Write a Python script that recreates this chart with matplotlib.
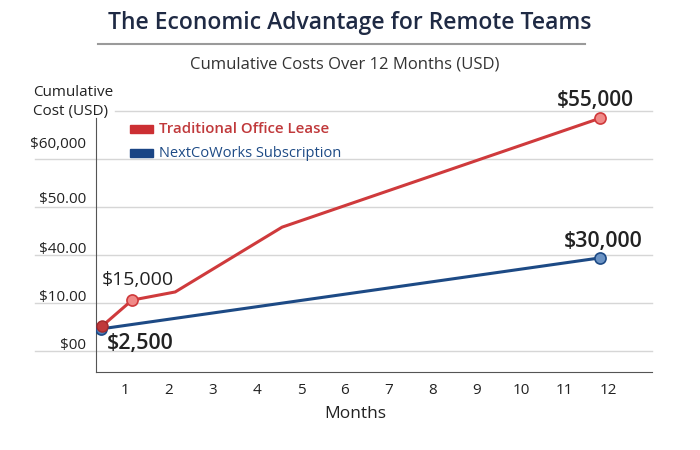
import matplotlib
matplotlib.use("Agg")
import matplotlib.pyplot as plt
import matplotlib.transforms as mtransforms
from matplotlib.lines import Line2D
from matplotlib.patches import Rectangle

plt.rcParams['font.family'] = ['Open Sans', 'DejaVu Sans']

# data (months, cumulative cost in USD on the drawn scale)
office_months = [0.48, 1.16, 2.14, 4.57, 11.8]
office_cost = [5200, 10600, 12300, 25800, 48500]
cowork_months = [0.45, 11.8]
cowork_cost = [4600, 19400]

month_ticks = list(range(1, 13))
grid_vals = [0, 10000, 20000, 30000, 40000, 50000]
ytick_text = ["$00", "$10.00", "$40.00", "$50.00", "$60,000"]
ytick_lift = [7, 7, 8, 10, 16]   # px the label sits above its grid line

RED = "#cf3a3c"
BLUE = "#1d4a85"
TXT = "#222222"

fig = plt.figure(figsize=(7, 4.5), dpi=100)
ax = fig.add_axes([96 / 700, 78 / 450, 556 / 700, 261 / 450])

ax.set_xlim(0.34, 12.98)
ax.set_ylim(-4375, 50000)

# grid lines run past the left spine, as in the reference
for v in grid_vals:
    xmin = -0.11 if v < 50000 else 0.034
    ax.axhline(v, xmin=xmin, xmax=1.0, color="#d6d6d6", lw=1, clip_on=False, zorder=0)

ax.plot(office_months, office_cost, color=RED, lw=2.2, zorder=3, solid_capstyle="round")
ax.plot(cowork_months, cowork_cost, color=BLUE, lw=2.2, zorder=3, solid_capstyle="round")

# markers at start / highlighted points
ax.plot(office_months[1], office_cost[1], "o", ms=8, mfc="#f08a88", mec=RED, mew=1.2, zorder=4)
ax.plot(office_months[-1], office_cost[-1], "o", ms=8, mfc="#f08a88", mec=RED, mew=1.2, zorder=4)
ax.plot(cowork_months[0], cowork_cost[0], "o", ms=8, mfc="#4f7fb8", mec=BLUE, mew=1.2, zorder=4)
ax.plot(office_months[0], office_cost[0], "o", ms=8, mfc="#c0393b", mec="#a02a2c", mew=1.0, zorder=5)
ax.plot(cowork_months[-1], cowork_cost[-1], "o", ms=8, mfc="#6b93c4", mec=BLUE, mew=1.2, zorder=4)

# value labels
ax.annotate("$15,000", (office_months[1], office_cost[1]), xytext=(-30, 20),
            textcoords="offset pixels", fontsize=14, color=TXT, va="center")
ax.annotate("$2,500", (cowork_months[0], cowork_cost[0]), xytext=(6, -15),
            textcoords="offset pixels", fontsize=15.5, color=TXT, va="center",
            fontweight="semibold")
ax.annotate("$55,000", (office_months[-1], office_cost[-1]), xytext=(-43, 18),
            textcoords="offset pixels", fontsize=15, color=TXT, va="center",
            fontweight="semibold")
ax.annotate("$30,000", (cowork_months[-1], cowork_cost[-1]), xytext=(-36, 16),
            textcoords="offset pixels", fontsize=15.5, color=TXT, va="center",
            fontweight="semibold")

# axes styling
for s in ["top", "right"]:
    ax.spines[s].set_visible(False)
ax.spines["left"].set_color("#555555")
ax.spines["bottom"].set_color("#555555")
ax.spines["left"].set_bounds(-4375, 48500)

ax.set_xticks(month_ticks)
ax.set_xticklabels([str(m) for m in month_ticks])
ax.tick_params(axis="x", length=0, pad=8, labelsize=11, labelcolor=TXT)

ax.set_yticks(grid_vals[:-1])
ax.set_yticklabels(ytick_text)
ax.tick_params(axis="y", length=0, pad=7, labelsize=11, labelcolor=TXT)
for lab, lift in zip(ax.get_yticklabels(), ytick_lift):
    off = mtransforms.ScaledTranslation(0, lift / 100, fig.dpi_scale_trans)
    lab.set_transform(lab.get_transform() + off)

ax.set_xlabel("Months", fontsize=12.5, color=TXT)
ax.xaxis.set_label_coords((355 - 96) / 556, -(406 - 372) / 261)

fig.text(33 / 700, 1 - 92 / 450, "Cumulative", fontsize=11, color=TXT, va="center", ha="left")
fig.text(33 / 700, 1 - 111 / 450, "Cost (USD)", fontsize=11, color=TXT, va="center", ha="left")

# legend drawn by hand to match the placement
fig.patches.append(Rectangle((130 / 700, 1 - 133 / 450), 23 / 700, 8 / 450,
                             transform=fig.transFigure, color="#cc2f33"))
fig.patches.append(Rectangle((130 / 700, 1 - 157 / 450), 23 / 700, 8 / 450,
                             transform=fig.transFigure, color="#1a4585"))
fig.text(159 / 700, 1 - 129 / 450, "Traditional Office Lease", fontsize=10.8,
         color="#c0393b", va="center", fontweight="semibold")
fig.text(159 / 700, 1 - 153 / 450, "NextCoWorks Subscription", fontsize=10.5,
         color="#1d4a85", va="center")

# title, rule and subtitle
fig.text(0.5, 1 - 23 / 450, "The Economic Advantage for Remote Teams", fontsize=16.5,
         color="#1f2a44", ha="center", va="center", fontweight="semibold")
fig.add_artist(Line2D([98 / 700, 585 / 700], [1 - 44 / 450, 1 - 44 / 450],
                      transform=fig.transFigure, color="#9a9a9a", lw=1.5))
fig.text(345 / 700, 1 - 65 / 450, "Cumulative Costs Over 12 Months (USD)", fontsize=12,
         color="#333333", ha="center", va="center")

fig.savefig("out.png", dpi=100)
